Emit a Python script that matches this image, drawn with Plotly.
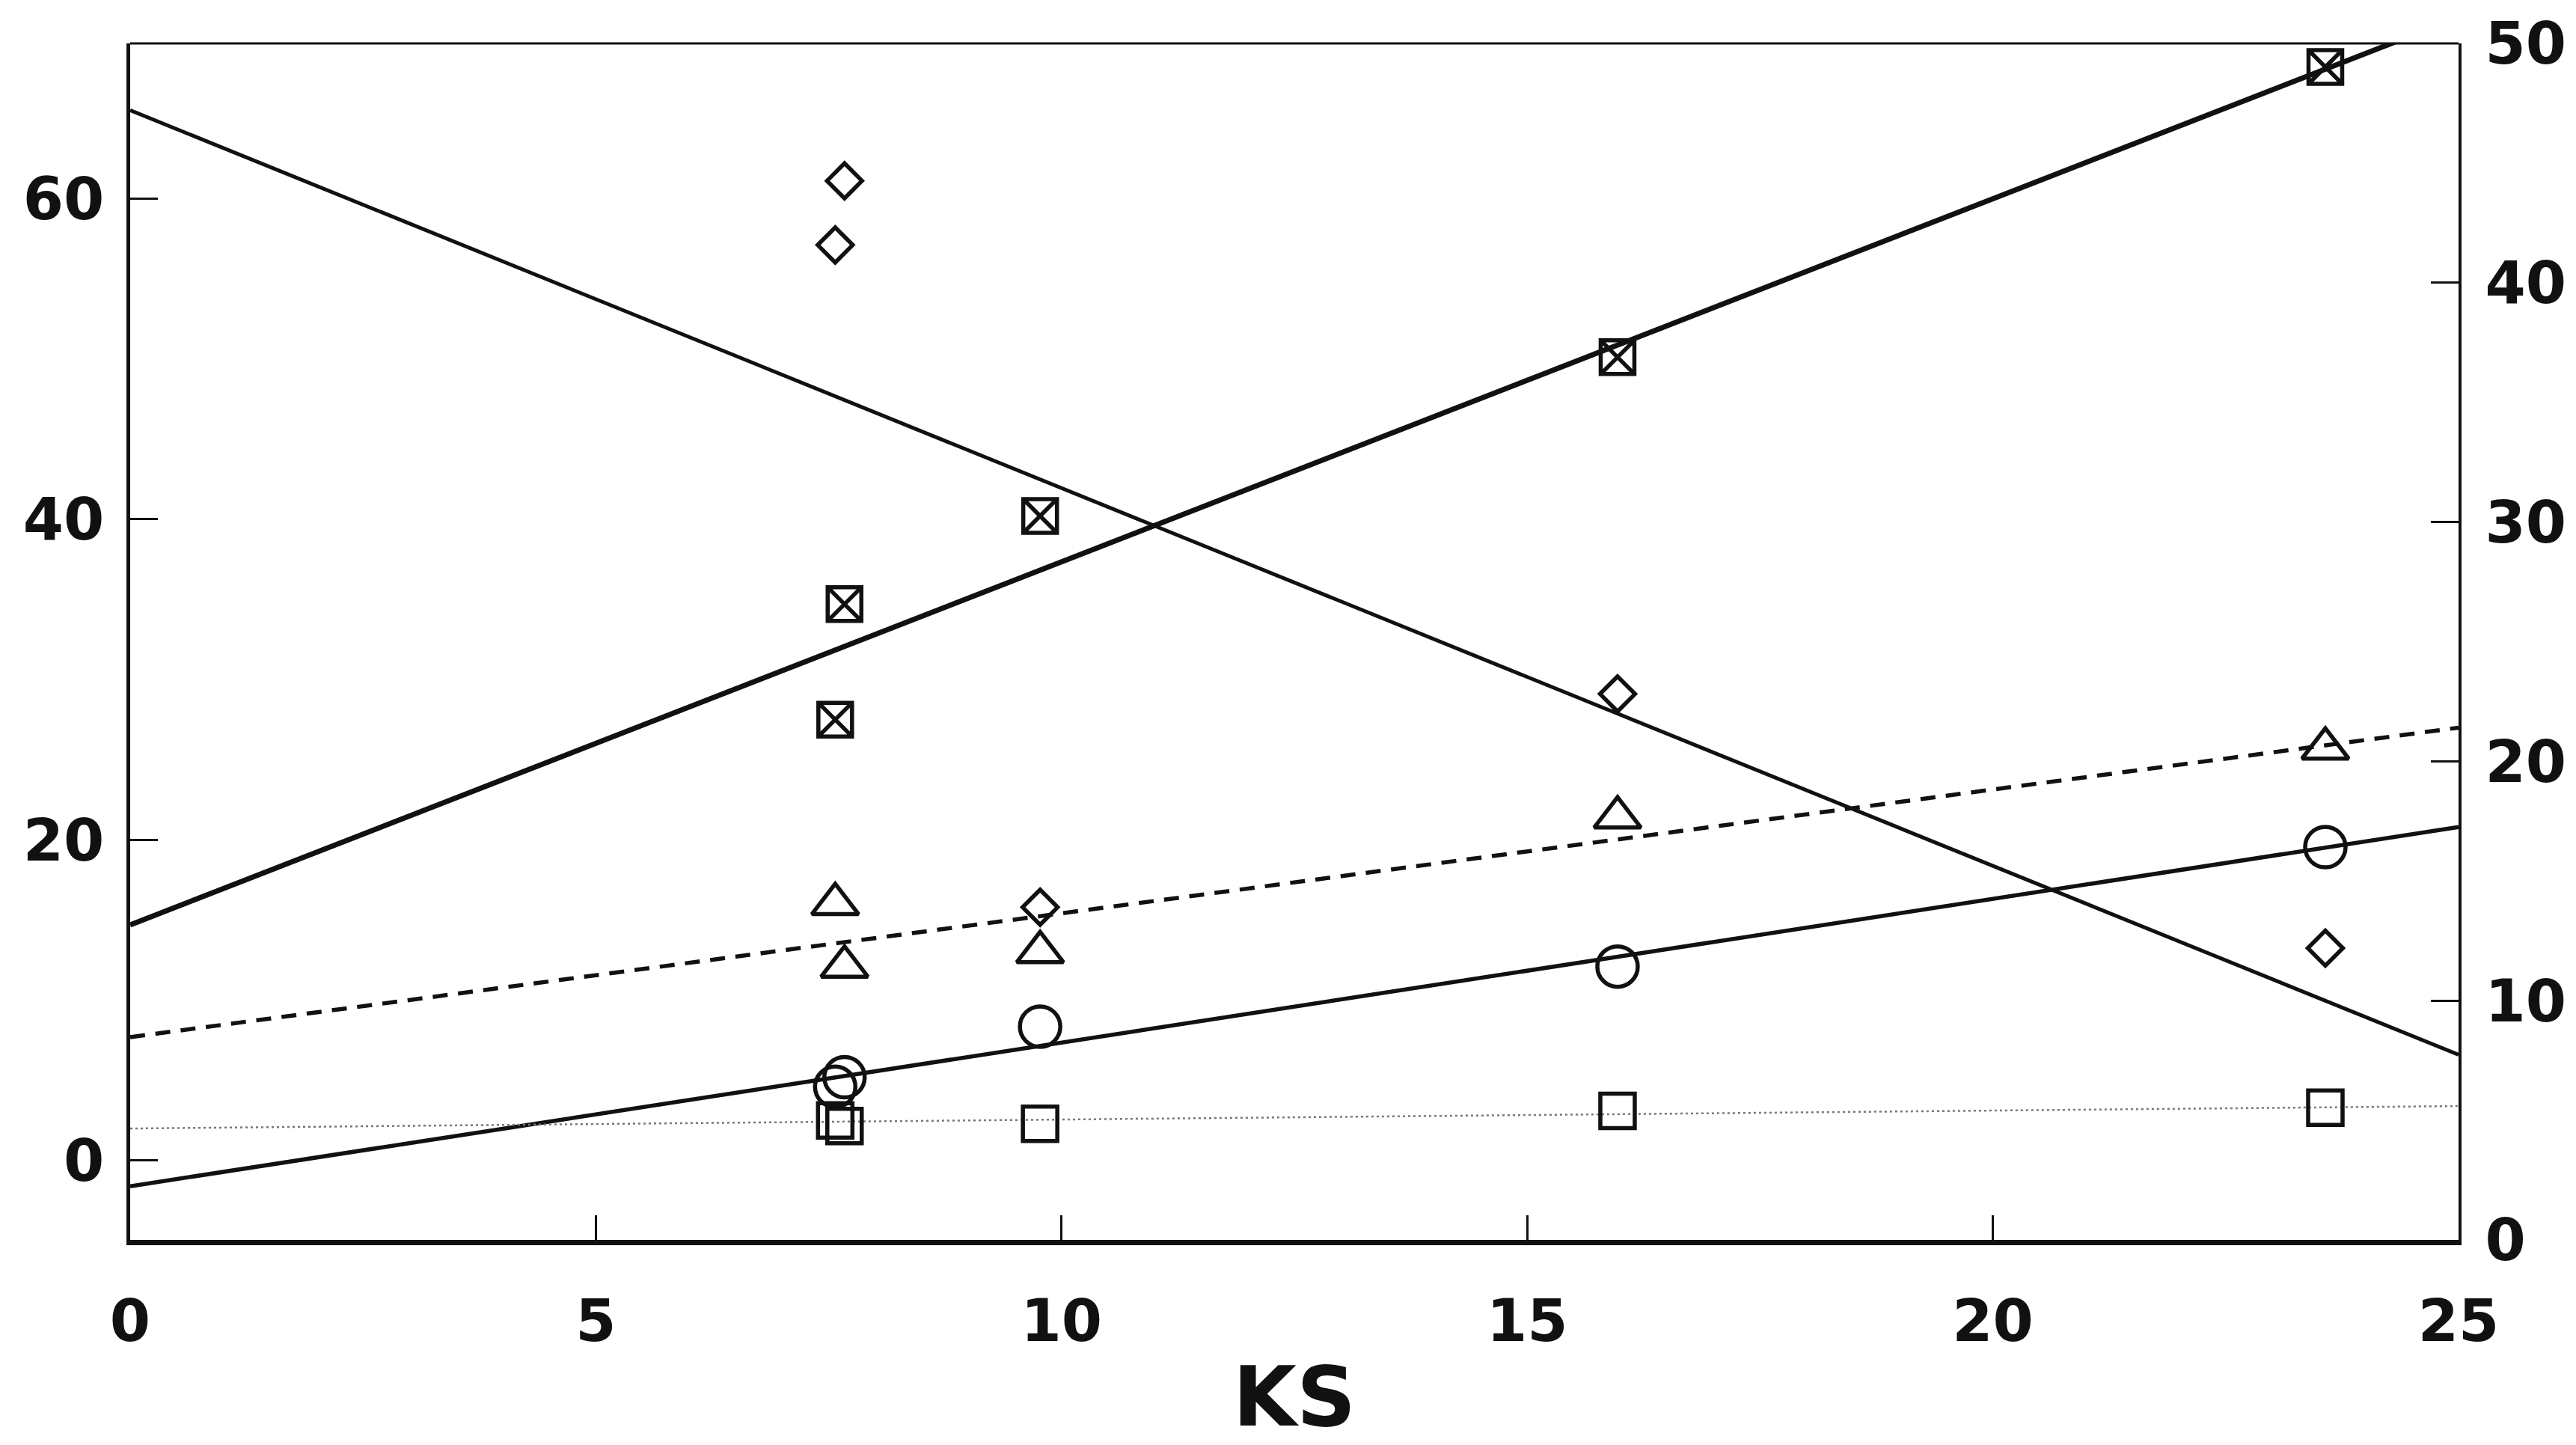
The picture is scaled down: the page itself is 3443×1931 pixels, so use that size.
import plotly.graph_objects as go

# ---- data ----
KS = [7.57, 7.67, 9.77, 15.97, 23.57]
crossed_sq = [27.5, 34.7, 40.2, 50.1, 68.2]
diamonds = [57.1, 61.1, 15.8, 29.1, 13.25]
triangles = [16.0, 12.1, 13.0, 21.4, 25.7]
circles = [4.6, 5.2, 8.35, 12.1, 19.55]
squares = [2.5, 2.15, 2.3, 3.1, 3.3]

# fitted lines, endpoints at KS = 0 and KS = 25
fit_x = [0, 25]
fit_crossed = [14.7, 71.3]
fit_diamonds = [65.5, 6.6]
fit_triangles = [7.7, 27.0]
fit_circles = [-1.6, 20.8]
fit_squares = [2.0, 3.4]

x_ticks = [0, 5, 10, 15, 20, 25]
y_left_ticks = [0, 20, 40, 60]
y_right_ticks = [0, 10, 20, 30, 40, 50]

BLACK = "#111111"
FONT = dict(family="DejaVu Sans", size=78, color=BLACK, weight="bold")

fig = go.Figure()

# lines
fig.add_trace(go.Scatter(x=fit_x, y=fit_crossed, mode="lines",
                         line=dict(color=BLACK, width=7), showlegend=False))
fig.add_trace(go.Scatter(x=fit_x, y=fit_diamonds, mode="lines",
                         line=dict(color=BLACK, width=5), showlegend=False))
fig.add_trace(go.Scatter(x=fit_x, y=fit_triangles, mode="lines",
                         line=dict(color=BLACK, width=5.5, dash="20px,14px"), showlegend=False))
fig.add_trace(go.Scatter(x=fit_x, y=fit_circles, mode="lines",
                         line=dict(color=BLACK, width=5.5), showlegend=False))
fig.add_trace(go.Scatter(x=fit_x, y=fit_squares, mode="lines",
                         line=dict(color="#777777", width=2.5, dash="3px,4px"), showlegend=False))

# markers
mk = dict(color=BLACK, width=5.5)
fig.add_trace(go.Scatter(x=KS, y=crossed_sq, mode="markers",
                         marker=dict(symbol="square-x-open", size=45, color=BLACK, line=mk),
                         showlegend=False, cliponaxis=False))
fig.add_trace(go.Scatter(x=KS, y=diamonds, mode="markers",
                         marker=dict(symbol="diamond-open", size=36, color=BLACK, line=mk),
                         showlegend=False, cliponaxis=False))
fig.add_trace(go.Scatter(x=KS, y=triangles, mode="markers",
                         marker=dict(symbol="triangle-up-open", size=54, color=BLACK, line=mk),
                         showlegend=False, cliponaxis=False))
fig.add_trace(go.Scatter(x=KS, y=circles, mode="markers",
                         marker=dict(symbol="circle-open", size=54, color=BLACK, line=mk),
                         showlegend=False, cliponaxis=False))
fig.add_trace(go.Scatter(x=KS, y=squares, mode="markers",
                         marker=dict(symbol="square-open", size=46, color=BLACK, line=mk),
                         showlegend=False, cliponaxis=False))

# invisible trace to anchor the right axis
fig.add_trace(go.Scatter(x=[None], y=[None], yaxis="y2", mode="markers",
                         showlegend=False, hoverinfo="skip"))

fig.update_layout(
    width=3443, height=1931,
    margin=dict(l=174, r=157, t=58, b=274),
    paper_bgcolor="white", plot_bgcolor="white",
    font=FONT,
    xaxis=dict(range=[0, 25], tickvals=x_ticks, ticktext=[str(v) for v in x_ticks],
               ticks="inside", ticklen=33, tickwidth=3, tickcolor=BLACK,
               showline=True, linewidth=7, linecolor=BLACK, mirror=False,
               showgrid=False, zeroline=False, ticklabelstandoff=34,
               title=dict(text="KS", font=dict(family="DejaVu Sans", size=110,
                                               color=BLACK, weight="bold"), standoff=72),
               automargin=False),
    yaxis=dict(range=[-4.95, 69.67], tickvals=y_left_ticks,
               ticks="inside", ticklen=37, tickwidth=3, tickcolor=BLACK,
               showline=True, linewidth=5, linecolor=BLACK,
               showgrid=False, zeroline=False, ticklabelstandoff=14,
               automargin=False),
    yaxis2=dict(range=[0, 50], tickvals=y_right_ticks, overlaying="y", side="right",
                anchor="x",
                ticks="inside", ticklen=37, tickwidth=3, tickcolor=BLACK,
                showline=True, linewidth=4, linecolor=BLACK,
                showgrid=False, zeroline=False, ticklabelstandoff=16,
                automargin=False),
    shapes=[dict(type="line", xref="paper", yref="paper", x0=0, x1=1, y0=1, y1=1,
                 line=dict(color=BLACK, width=3))],
)

fig.write_html("out.html")
